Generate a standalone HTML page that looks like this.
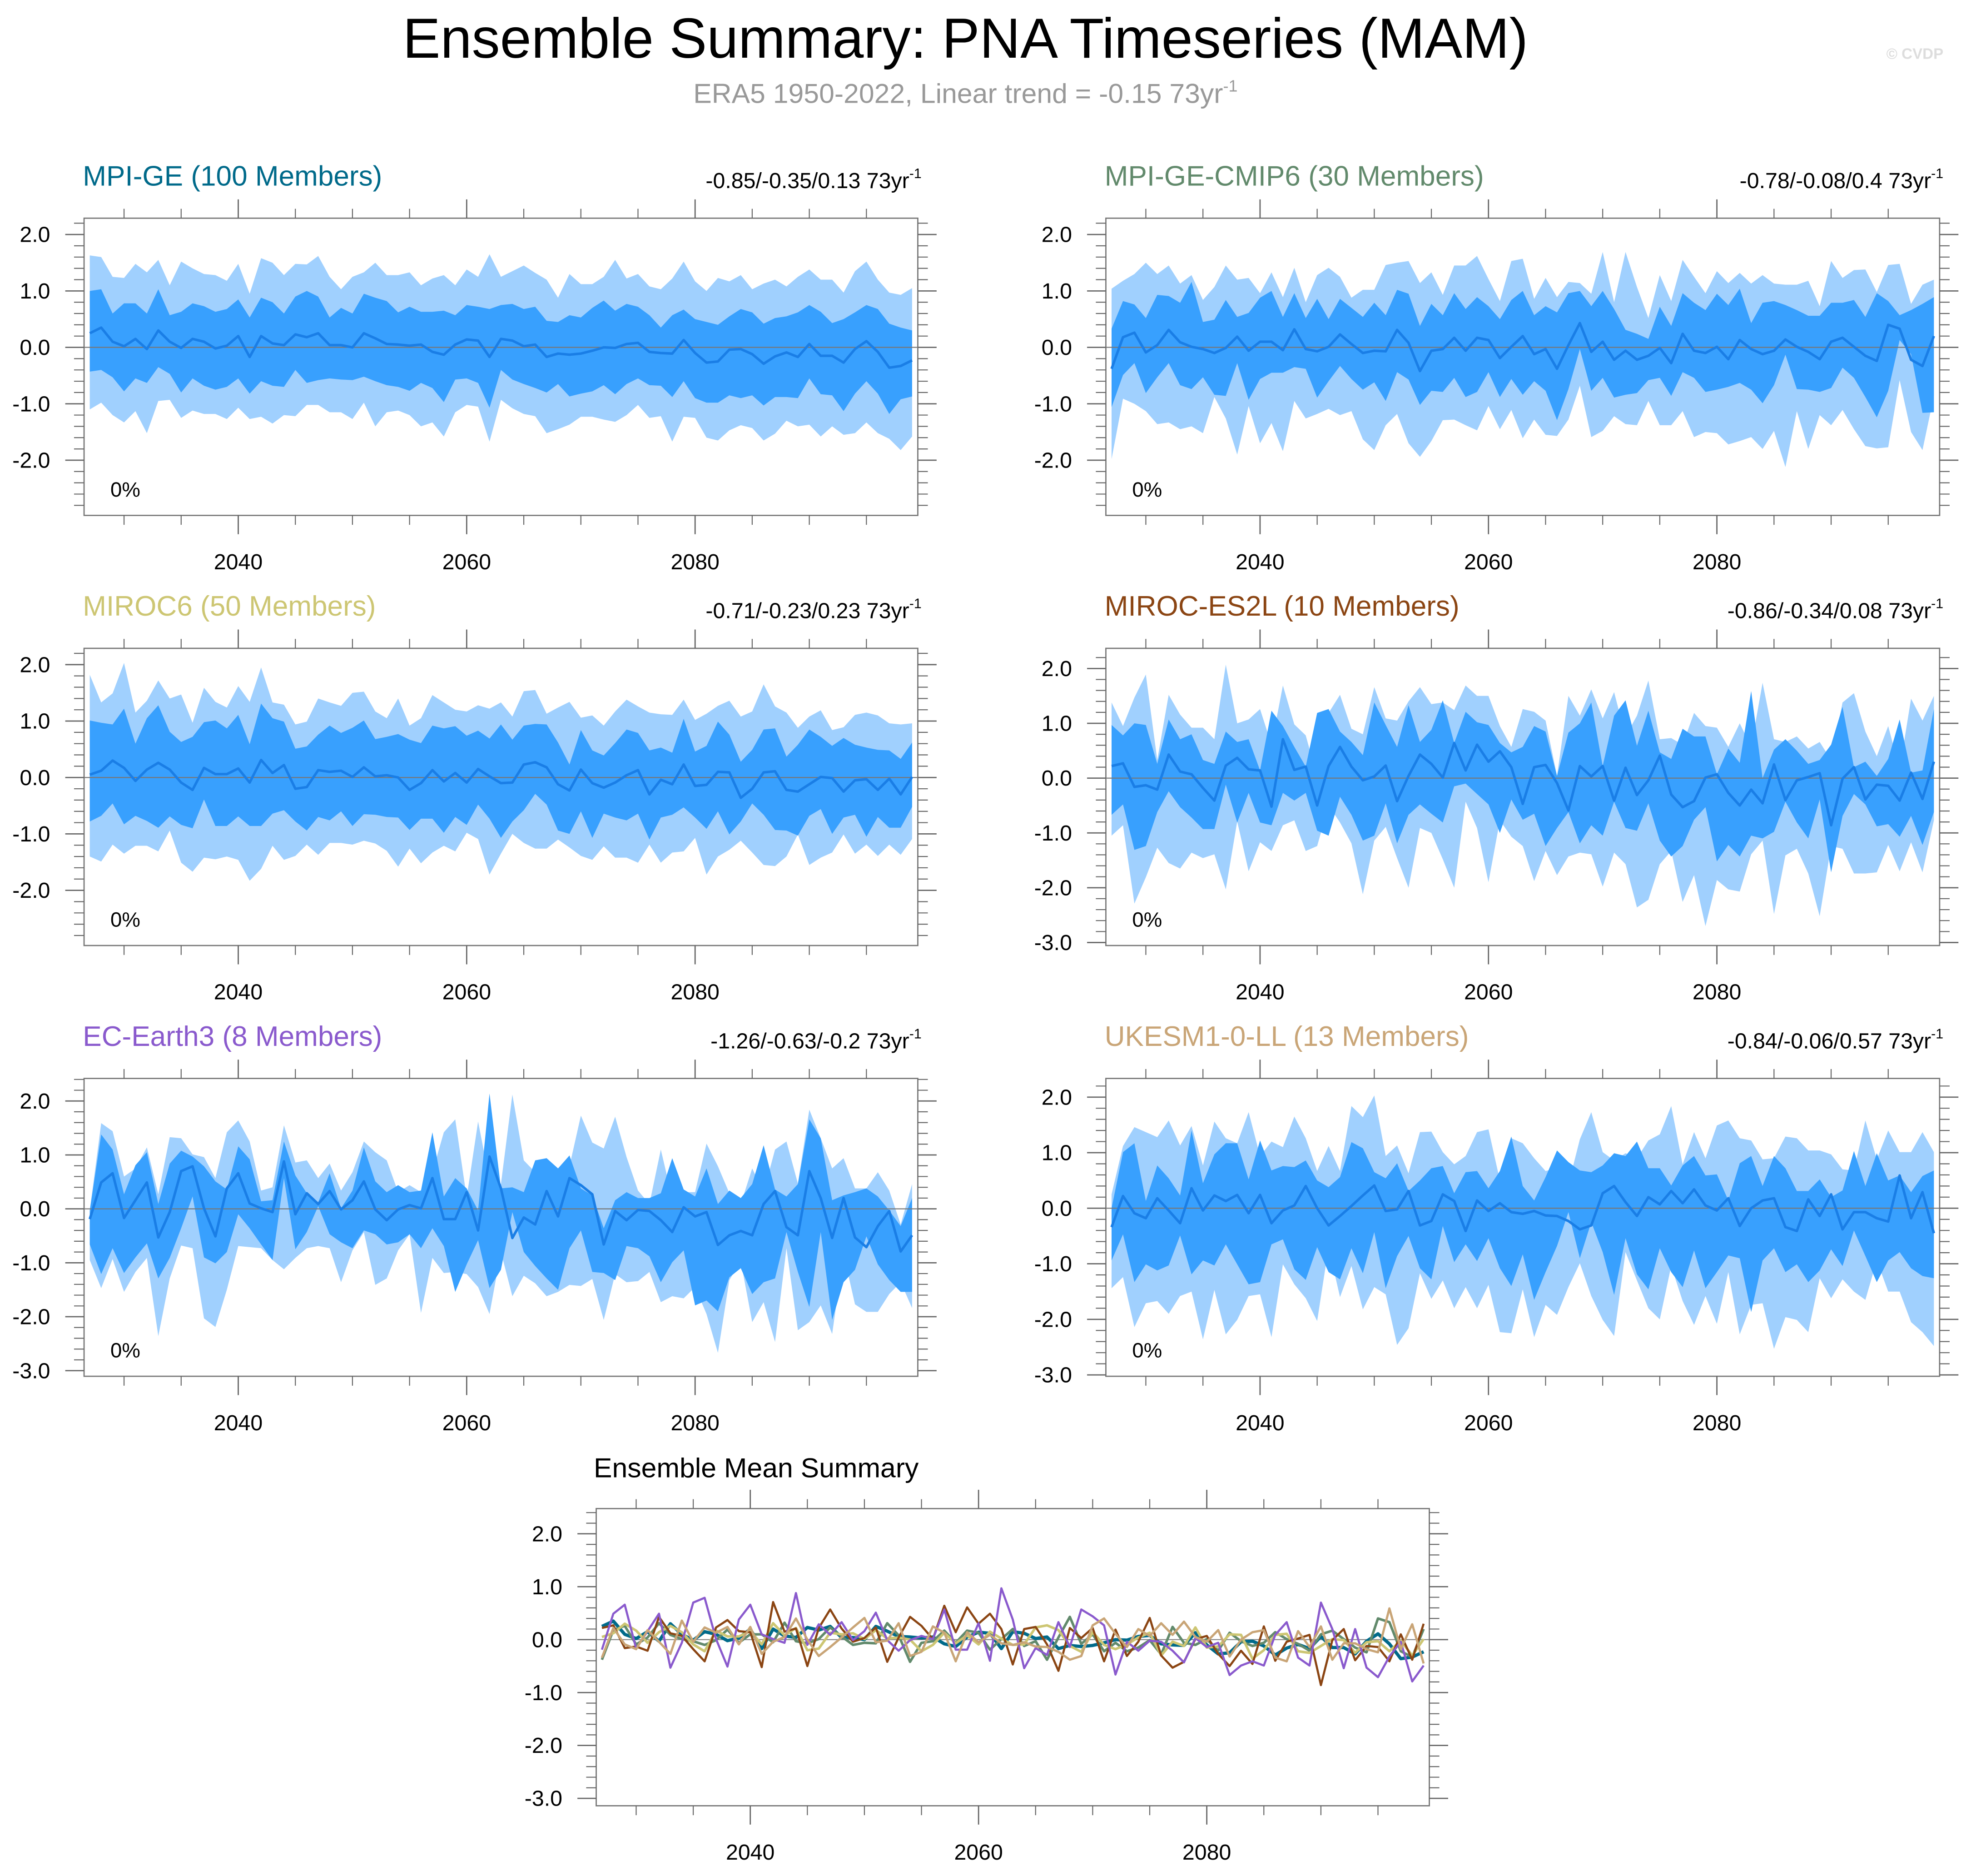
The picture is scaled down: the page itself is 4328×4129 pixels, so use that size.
<!DOCTYPE html>
<html><head><meta charset="utf-8"><title>Ensemble Summary: PNA Timeseries (MAM)</title>
<style>html,body{margin:0;padding:0;background:#fff}svg{display:block}text{font-family:"Liberation Sans",sans-serif}</style>
</head><body>
<svg id="chart" xmlns="http://www.w3.org/2000/svg" width="4328" height="4129" viewBox="0 0 1568 1496">
<rect width="1568" height="1496" fill="#fff"/>
<text x="770" y="46" font-size="45" text-anchor="middle" fill="#000">Ensemble Summary: PNA Timeseries (MAM)</text>
<text x="770" y="82" font-size="22" text-anchor="middle" fill="#999">ERA5 1950-2022, Linear trend = -0.15 73yr<tspan dy="-9" font-size="13">-1</tspan></text>
<text x="1550" y="47" font-size="12" font-weight="bold" text-anchor="end" fill="#ddd">© CVDP</text>
</svg>
<script>
const startYear = 2027;
const p1Mean=[0.25,0.35,0.1,0.02,0.15,-0.03,0.3,0.1,-0.01,0.15,0.1,-0.02,0.03,0.2,-0.17,0.2,0.07,0.04,0.23,0.18,0.25,0.04,0.04,0,0.25,0.16,0.06,0.05,0.03,0.05,-0.08,-0.13,0.05,0.14,0.12,-0.17,0.15,0.12,0.02,0.05,-0.17,-0.11,-0.13,-0.11,-0.06,0,-0.01,0.06,0.08,-0.08,-0.1,-0.11,0.13,-0.1,-0.27,-0.25,-0.04,-0.03,-0.12,-0.29,-0.16,-0.09,-0.17,0.06,-0.15,-0.15,-0.27,-0.03,0.11,-0.08,-0.36,-0.33,-0.23];
const p1Hi2=[1.63,1.6,1.25,1.23,1.48,1.33,1.55,1.1,1.52,1.4,1.3,1.28,1.18,1.48,0.95,1.58,1.5,1.28,1.48,1.47,1.62,1.25,1.03,1.25,1.33,1.5,1.28,1.28,1.33,1.1,1.22,1.28,1.1,1.38,1.25,1.65,1.25,1.35,1.45,1.32,1.2,0.88,1.3,1.12,1.12,1.25,1.55,1.22,1.3,1.08,1.03,1.22,1.52,1.17,1.0,1.23,1.17,1.28,1.03,1.13,1.2,1.08,1.25,1.38,1.2,1.2,0.97,1.35,1.52,1.2,0.97,0.93,1.05];
const p1Hi1=[1.0,1.03,0.6,0.78,0.78,0.6,1.03,0.57,0.63,0.78,0.73,0.63,0.68,0.85,0.53,0.88,0.8,0.6,0.9,1.0,0.9,0.53,0.7,0.6,0.95,0.88,0.82,0.62,0.72,0.63,0.63,0.65,0.57,0.75,0.72,0.68,0.75,0.77,0.68,0.72,0.47,0.45,0.57,0.53,0.7,0.83,0.65,0.77,0.72,0.57,0.35,0.57,0.67,0.5,0.45,0.4,0.55,0.68,0.62,0.42,0.52,0.55,0.62,0.75,0.63,0.43,0.5,0.62,0.75,0.68,0.42,0.35,0.3];
const p1Lo1=[-0.43,-0.4,-0.53,-0.78,-0.55,-0.63,-0.35,-0.47,-0.8,-0.55,-0.68,-0.75,-0.7,-0.55,-0.82,-0.6,-0.68,-0.7,-0.4,-0.63,-0.58,-0.55,-0.57,-0.58,-0.52,-0.6,-0.67,-0.7,-0.77,-0.63,-0.72,-0.97,-0.57,-0.55,-0.63,-1.07,-0.4,-0.57,-0.65,-0.72,-0.8,-0.65,-0.87,-0.82,-0.78,-0.67,-0.83,-0.65,-0.55,-0.67,-0.68,-0.88,-0.6,-0.9,-0.98,-0.98,-0.85,-0.9,-0.85,-1.03,-0.88,-0.88,-0.9,-0.55,-0.83,-0.85,-1.13,-0.82,-0.6,-0.82,-1.18,-0.92,-0.87];
const p1Lo2=[-1.1,-0.98,-1.2,-1.33,-1.13,-1.52,-0.95,-0.93,-1.25,-1.12,-1.18,-1.18,-1.27,-1.07,-1.27,-1.23,-1.35,-1.2,-1.22,-1.02,-1.02,-1.15,-1.15,-1.27,-0.98,-1.4,-1.15,-1.12,-1.2,-1.4,-1.33,-1.58,-1.15,-1.02,-1.05,-1.67,-0.93,-1.08,-1.18,-1.22,-1.52,-1.45,-1.37,-1.23,-1.23,-1.28,-1.32,-1.2,-1.02,-1.25,-1.22,-1.67,-1.23,-1.25,-1.6,-1.65,-1.47,-1.38,-1.43,-1.65,-1.53,-1.3,-1.4,-1.37,-1.58,-1.4,-1.55,-1.52,-1.33,-1.52,-1.62,-1.82,-1.58];

const p2Mean=[-0.38,0.18,0.26,-0.09,0.04,0.31,0.09,0.01,-0.03,-0.1,-0.01,0.19,-0.06,0.1,0.1,-0.05,0.32,-0.03,-0.07,0.01,0.23,0.06,-0.1,-0.06,-0.07,0.31,0.08,-0.42,-0.06,-0.03,0.17,-0.06,0.17,0.13,-0.19,0.01,0.2,-0.12,-0.03,-0.38,0.04,0.43,-0.08,0.1,-0.22,-0.06,-0.22,-0.15,-0.01,-0.28,0.24,-0.06,-0.1,0.01,-0.21,0.13,-0.03,-0.12,-0.06,0.14,0.01,-0.08,-0.21,0.1,0.17,0.01,-0.15,-0.24,0.4,0.33,-0.22,-0.33,0.2];
const p2Hi2=[1.04,1.18,1.3,1.5,1.3,1.45,1.13,1.28,0.84,1.07,1.45,1.2,1.23,0.96,1.33,0.89,1.41,0.8,1.28,1.41,1.25,0.88,1.02,1.02,1.46,1.5,1.53,1.14,1.33,0.93,1.45,1.45,1.62,1.21,0.82,1.53,1.57,0.86,1.23,0.89,1.16,1.14,0.95,1.69,0.8,1.69,1.07,0.52,1.28,0.82,1.55,1.25,0.96,1.35,1.14,1.32,1.13,1.28,1.13,1.11,1.11,1.18,0.73,1.53,1.23,1.37,1.38,0.98,1.46,1.48,0.77,1.11,1.2];
const p2Hi1=[0.33,0.82,0.76,0.52,0.93,0.91,0.79,1.16,0.45,0.49,0.84,0.54,0.61,0.88,1.0,0.54,0.96,0.52,0.86,0.5,0.86,0.7,0.54,0.79,0.57,1.02,0.95,0.38,0.77,0.57,0.96,0.68,0.89,0.73,0.5,0.84,1.0,0.57,0.73,0.62,0.96,1.0,0.73,1.0,0.68,0.31,0.24,0.15,0.72,0.38,0.96,0.79,0.66,0.95,0.75,1.04,0.43,0.79,0.82,0.75,0.66,0.56,0.56,0.79,0.79,0.84,0.54,0.96,0.82,0.57,0.66,0.77,0.89];
const p2Lo1=[-1.06,-0.49,-0.28,-0.81,-0.53,-0.28,-0.67,-0.74,-0.53,-0.84,-0.86,-0.28,-0.93,-0.56,-0.45,-0.45,-0.35,-0.38,-0.89,-0.6,-0.33,-0.56,-0.75,-0.62,-0.95,-0.44,-0.57,-1.02,-0.77,-0.79,-0.54,-0.88,-0.79,-0.44,-0.88,-0.56,-0.84,-0.6,-0.77,-1.29,-0.74,-0.03,-0.77,-0.54,-0.89,-0.84,-0.81,-0.58,-0.54,-0.86,-0.44,-0.54,-0.79,-0.75,-0.7,-0.63,-0.75,-0.99,-0.67,-0.13,-0.74,-0.75,-0.79,-0.72,-0.36,-0.54,-0.88,-1.24,-0.77,0.13,-0.12,-1.16,-1.15];
const p2Lo2=[-1.98,-0.91,-1.0,-1.13,-1.36,-1.33,-1.45,-1.4,-1.52,-0.88,-1.26,-1.9,-1.04,-1.7,-1.34,-1.84,-0.95,-1.26,-1.18,-1.09,-1.2,-1.13,-1.63,-1.82,-1.38,-1.18,-1.7,-1.94,-1.66,-1.29,-1.28,-1.38,-1.47,-1.04,-1.45,-1.11,-1.61,-1.28,-1.55,-1.57,-1.28,-0.68,-1.59,-1.48,-1.22,-1.36,-1.38,-0.95,-1.38,-1.38,-1.13,-1.59,-1.5,-1.52,-1.72,-1.66,-1.59,-1.8,-1.48,-2.12,-1.13,-1.8,-1.2,-1.38,-1.11,-1.45,-1.75,-1.79,-1.77,-0.58,-1.5,-1.82,-0.86];

const p3Mean=[0.05,0.12,0.3,0.17,-0.06,0.14,0.26,0.14,-0.09,-0.22,0.17,0.06,0.06,0.16,-0.09,0.31,0.08,0.22,-0.2,-0.17,0.13,0.1,0.12,0.01,0.18,0.02,0.04,0,-0.22,-0.1,0.13,-0.07,0.08,-0.09,0.15,0.02,-0.1,-0.09,0.23,0.27,0.18,-0.12,-0.23,0.14,-0.1,-0.18,-0.09,0.04,0.13,-0.3,-0.04,-0.12,0.23,-0.15,-0.13,0.1,0.09,-0.36,-0.2,0.09,0.11,-0.22,-0.25,-0.12,0.01,-0.01,-0.25,-0.05,-0.03,-0.22,-0.02,-0.3,0.01];
const p3Hi2=[1.82,1.33,1.49,2.03,1.15,1.36,1.72,1.4,1.47,0.97,1.59,1.34,1.24,1.62,1.34,1.95,1.33,1.29,0.94,0.99,1.4,1.33,1.27,1.5,1.52,1.17,1.05,1.4,0.92,1.05,1.46,1.33,1.2,1.17,1.28,1.22,1.33,1.08,1.53,1.55,1.13,1.24,1.34,1.06,1.1,0.92,1.17,1.38,1.26,1.15,1.12,1.11,1.38,1.02,1.13,1.27,1.36,1.08,1.17,1.65,1.26,1.15,0.88,1.08,1.19,0.84,0.89,1.11,1.15,1.1,0.96,0.94,0.96];
const p3Hi1=[1.01,0.97,0.94,1.22,0.6,1.05,1.28,0.81,0.63,0.72,0.98,1.01,0.87,1.11,0.59,1.31,1.05,0.99,0.51,0.55,0.76,0.92,0.79,0.88,1.01,0.68,0.72,0.77,0.67,0.61,0.92,0.87,0.91,0.74,0.83,0.69,0.94,0.67,0.92,0.95,0.94,0.62,0.23,0.84,0.48,0.39,0.61,0.85,0.79,0.48,0.53,0.44,1.04,0.46,0.56,0.99,0.76,0.28,0.49,0.85,0.87,0.37,0.58,0.85,0.72,0.56,0.7,0.58,0.53,0.49,0.48,0.33,0.62];
const p3Lo1=[-0.78,-0.68,-0.46,-0.83,-0.68,-0.77,-0.89,-0.69,-0.84,-0.9,-0.39,-0.86,-0.86,-0.69,-0.86,-0.86,-0.64,-0.58,-0.78,-0.94,-0.7,-0.76,-0.6,-0.86,-0.65,-0.66,-0.7,-0.71,-0.93,-0.73,-0.73,-0.98,-0.7,-0.84,-0.48,-0.73,-1.07,-0.78,-0.58,-0.29,-0.48,-0.94,-1.0,-0.6,-1.07,-0.64,-0.71,-0.76,-0.64,-1.1,-0.71,-0.66,-0.53,-0.71,-0.91,-0.6,-1.01,-0.78,-0.46,-0.66,-0.93,-0.94,-1.03,-0.68,-0.56,-1.0,-0.71,-0.66,-1.05,-0.7,-0.89,-0.89,-0.52];
const p3Lo2=[-1.4,-1.49,-1.19,-1.35,-1.21,-1.21,-1.31,-0.94,-1.51,-1.67,-1.42,-1.45,-1.4,-1.46,-1.83,-1.62,-1.21,-1.46,-1.39,-1.19,-1.37,-1.16,-1.16,-1.19,-1.12,-1.17,-1.3,-1.58,-1.26,-1.52,-1.33,-1.21,-1.31,-0.98,-1.09,-1.72,-1.35,-1.0,-1.16,-1.26,-1.26,-1.1,-1.24,-1.39,-1.46,-1.22,-1.42,-1.42,-1.51,-1.19,-1.51,-1.33,-1.31,-1.07,-1.72,-1.4,-1.28,-1.12,-1.33,-1.55,-1.57,-1.4,-1.01,-1.55,-1.42,-1.33,-1.01,-1.35,-1.19,-1.39,-1.19,-1.37,-1.09];

const p4Mean=[0.22,0.27,-0.16,-0.13,-0.21,0.43,0.12,0.07,-0.18,-0.41,0.23,0.37,0.16,0.14,-0.52,0.71,0.15,0.21,-0.5,0.22,0.57,0.21,-0.04,0.03,0.23,-0.42,0.04,0.43,0.26,0.01,0.64,0.14,0.61,0.3,0.49,0.2,-0.47,0.2,0.24,-0.09,-0.59,0.22,0.03,0.22,-0.41,0.19,-0.31,-0.04,0.41,-0.3,-0.53,-0.42,0.01,0.07,-0.27,-0.5,-0.21,-0.46,0.25,-0.4,-0.04,0.02,0.09,-0.86,-0.01,0.2,-0.39,-0.12,-0.14,-0.41,0.1,-0.38,0.3];
const p4Hi2=[1.38,0.95,1.47,1.89,0.33,1.52,1.16,0.92,0.92,0.71,2.07,1.0,1.07,1.26,0.61,1.69,0.98,0.78,0.02,1.19,1.52,0.9,0.8,1.66,1.09,1.05,1.4,1.66,1.35,1.38,1.24,1.69,1.5,1.5,0.95,0.57,1.26,1.21,1.05,0.04,1.5,1.14,1.62,1.09,1.57,0.76,1.14,1.78,0.71,0.73,0.61,1.19,0.95,0.92,0.57,1.0,0.57,1.74,0.71,0.66,0.76,0.54,0.66,0.33,1.38,1.55,0.85,0.4,0.95,0.16,1.45,1.05,1.5];
const p4Hi1=[0.97,0.78,1.0,0.97,0.26,1.07,0.71,0.8,0.33,0.26,0.85,0.66,0.71,0.14,1.23,0.95,0.57,0.21,1.19,1.26,0.85,0.66,0.42,1.38,0.97,0.57,1.33,0.66,0.88,1.42,0.64,1.21,1.02,0.97,0.64,0.47,0.57,0.95,0.85,0.04,0.83,1.0,1.38,0.22,1.14,1.42,0.59,1.23,0.47,0.35,0.9,0.76,0.76,0.07,0.54,0.28,1.59,0.0,0.52,0.71,0.5,0.26,0.33,0.61,1.3,0.2,0.3,0.04,0.35,1.07,0.1,0.14,1.26];
const p4Lo1=[-0.67,-0.48,-1.31,-1.24,-0.62,-0.24,-0.53,-0.72,-0.93,-0.93,-0.12,-0.81,-0.27,-0.81,-0.86,-0.27,-0.41,-0.27,-0.96,-1.05,-0.34,-0.67,-1.14,-1.05,-0.46,-1.19,-0.67,-0.48,-0.65,-0.81,-0.15,-0.1,-0.29,-0.48,-1.0,-0.39,-0.76,-0.65,-1.24,-0.91,-0.62,-1.19,-0.86,-1.05,-0.43,-0.91,-0.96,-0.46,-1.14,-1.43,-1.24,-0.76,-0.53,-1.52,-1.22,-1.43,-1.05,-1.1,-0.98,-0.43,-0.81,-1.1,-0.39,-1.72,-0.69,-0.29,-0.48,-0.88,-0.84,-1.07,-0.69,-1.22,-0.62];
const p4Lo2=[-1.05,-0.86,-2.29,-1.81,-1.27,-1.55,-1.65,-1.36,-1.46,-1.39,-2.03,-0.79,-1.7,-1.17,-1.33,-0.86,-0.77,-1.33,-1.24,-0.5,-0.81,-1.19,-2.12,-1.14,-0.89,-1.46,-2.0,-0.91,-1.0,-1.48,-2.0,-0.43,-0.91,-1.9,-0.77,-1.07,-1.24,-1.88,-1.33,-1.77,-1.43,-1.36,-1.39,-1.98,-1.36,-1.57,-2.36,-2.22,-1.57,-1.33,-2.26,-1.77,-2.7,-1.86,-2.03,-2.07,-1.39,-1.14,-2.48,-1.41,-1.29,-1.74,-2.52,-1.24,-1.29,-1.74,-1.74,-1.72,-1.22,-1.7,-1.17,-1.72,-0.77];

const p5Mean=[-0.19,0.49,0.66,-0.17,0.16,0.49,-0.53,-0.06,0.7,0.79,0.01,-0.51,0.38,0.66,0.1,0.01,-0.06,0.88,-0.1,0.29,0.09,0.33,-0.01,0.16,0.51,-0.01,-0.21,-0.01,0.07,0.01,0.57,-0.19,-0.19,0.31,-0.4,0.97,0.38,-0.54,-0.16,-0.29,0.33,-0.14,0.57,0.44,0.27,-0.66,-0.04,-0.21,-0.02,-0.04,-0.21,-0.43,0.03,-0.14,-0.06,-0.67,-0.49,-0.41,-0.49,0.09,0.33,-0.34,-0.49,0.7,0.2,-0.54,0.2,-0.53,-0.71,-0.32,-0.04,-0.79,-0.49];
const p5Hi2=[-0.03,1.59,1.44,0.6,0.75,1.14,0.27,1.33,1.31,1.01,0.96,0.57,1.42,1.64,1.25,0.34,0.4,1.55,0.86,0.9,0.57,0.84,0.34,0.68,1.25,1.05,0.9,0.31,0.44,0.31,0.68,1.42,1.66,0.21,1.62,0.53,0.46,2.12,0.9,0.68,0.4,0.34,0.79,1.73,1.23,1.12,1.71,0.96,0.34,0.09,1.1,0.2,0.31,0.31,1.21,0.79,0.29,0.09,0.75,0.31,1.1,1.25,0.47,1.84,1.31,0.75,0.94,0.38,0.38,0.68,0.34,-0.29,0.46];
const p5Hi1=[-0.03,1.38,1.1,0.27,0.81,1.05,0.09,0.84,1.08,0.97,0.79,0.51,0.36,1.16,0.92,0.14,0.16,1.25,0.62,0.29,0.12,0.66,0.01,0.34,1.14,0.51,0.31,0.44,0.31,0.34,1.42,0.23,0.57,0.38,-0.03,2.14,0.38,0.4,0.31,0.9,0.94,0.75,0.99,0.38,0.25,-0.36,0.16,0.31,0.2,0.2,0.29,0.94,0.36,0.23,0.75,0.09,0.34,0.2,0.46,1.18,0.36,0.23,0.46,1.66,1.31,0.16,0.25,0.31,0.38,0.23,-0.03,-0.32,0.2];
const p5Lo1=[-0.66,-1.21,-0.73,-1.19,-0.9,-0.64,-1.29,-0.91,-0.36,0.23,-0.9,-1.01,-0.8,-0.1,-0.36,-0.66,-0.95,0.57,-0.75,-0.43,0.05,-0.47,-0.62,-0.73,-0.4,-0.47,-0.66,-0.62,-0.47,-0.73,-0.36,-0.69,-1.54,-1.03,-0.58,-1.47,-1.13,-0.06,-0.8,-1.06,-1.29,-1.5,-0.73,-0.4,-1.17,-1.19,-1.32,-0.69,-0.73,-0.88,-1.36,-0.99,-0.77,-1.79,-1.7,-1.9,-1.27,-1.1,-1.58,-1.36,-1.29,-0.43,-1.17,-1.82,-0.43,-2.06,-1.36,-1.13,-0.51,-1.03,-1.32,-1.54,-1.54];
const p5Lo2=[-0.95,-1.47,-0.93,-1.54,-1.17,-0.91,-2.36,-1.29,-0.68,-0.73,-2.03,-2.19,-1.5,-0.69,-0.71,-0.73,-0.95,-1.12,-0.91,-0.73,-0.69,-0.73,-1.36,-0.77,-0.43,-1.41,-1.29,-0.77,-0.47,-1.93,-0.91,-1.19,-1.17,-1.21,-1.45,-1.95,-0.8,-1.62,-1.24,-1.38,-1.62,-1.54,-1.41,-1.43,-1.3,-2.06,-1.21,-1.36,-1.34,-1.17,-1.73,-1.62,-1.66,-1.45,-1.95,-2.67,-1.32,-0.97,-2.1,-1.73,-2.47,-0.73,-2.25,-2.1,-1.79,-2.32,-0.84,-1.77,-1.91,-1.91,-1.58,-1.36,-1.84];

const p6Mean=[-0.34,0.22,-0.09,-0.18,0.18,-0.04,-0.27,0.36,-0.04,0.23,0.13,0.24,-0.09,0.24,-0.27,-0.04,0.05,0.4,0,-0.31,-0.14,0.04,0.23,0.41,-0.05,-0.02,0.31,-0.31,-0.23,0.25,0.13,-0.41,0.14,-0.05,0.09,-0.07,-0.1,-0.05,-0.13,-0.14,-0.23,-0.38,-0.31,0.27,0.4,0.11,-0.14,0.2,0.07,0.31,0.09,0.34,0.05,-0.04,0.18,-0.32,0,0.14,0.18,-0.34,-0.41,0.16,-0.14,0.25,-0.38,-0.07,-0.07,-0.18,-0.24,0.59,-0.18,0.29,-0.45];
const p6Hi2=[0.25,1.12,1.46,1.37,1.28,1.58,1.13,1.48,0.77,1.56,1.26,1.17,1.73,0.94,1.2,1.1,1.65,1.26,0.67,1.12,0.67,1.84,1.64,2.03,0.94,1.13,0.63,1.37,1.38,1.01,0.79,0.94,1.37,1.42,0.5,1.26,1.17,0.9,0.67,0.72,0.43,1.24,1.73,1.01,0.86,0.99,0.9,1.22,1.33,1.84,0.79,1.37,0.9,1.49,1.58,1.26,1.22,0.88,0.9,1.29,1.26,1.04,1.04,0.97,0.7,0.68,1.58,0.88,1.4,1.01,1.01,1.37,1.01];
const p6Hi1=[0,1.01,1.17,0.13,0.77,0.54,0.23,1.4,0.45,0.97,1.17,1.17,0.52,1.22,0.68,0.76,0.74,0.86,0.5,0.38,0.56,1.19,1.08,0.65,0.54,0.81,0.31,0.5,0.72,0.76,0.27,0.65,0.67,0.36,0.67,1.29,0.4,0.14,0.56,1.04,0.83,0.68,0.65,0.77,0.99,0.94,1.2,0.72,0.72,0.41,0.77,0.94,0.59,0.61,0.14,0.81,0.94,0.4,0.94,0.72,0.31,0.31,0.52,0.2,0.32,1.03,0.4,0.99,0.5,0.59,0.29,0.58,0.68];
const p6Lo1=[-0.94,-0.47,-1.33,-1.01,-1.12,-1.03,-0.49,-1.19,-0.94,-1.03,-0.65,-1.01,-1.37,-1.33,-0.65,-0.56,-1.1,-1.29,-0.7,-1.15,-1.28,-0.72,-1.17,-0.43,-1.44,-0.86,-0.5,-1.08,-1.28,-0.32,-0.97,-0.65,-0.95,-0.54,-1.08,-1.4,-0.83,-1.65,-1.15,-0.68,-0.07,-0.9,-0.25,-0.79,-1.56,-0.54,-1.19,-1.46,-0.72,-1.15,-1.42,-0.76,-1.44,-1.15,-0.85,-0.9,-1.87,-0.94,-0.72,-1.15,-1.01,-1.33,-1.12,-0.74,-1.04,-0.4,-0.86,-1.33,-0.94,-0.79,-1.08,-1.22,-1.26];
const p6Lo2=[-1.44,-1.24,-2.14,-1.71,-1.67,-1.9,-1.58,-1.5,-2.36,-1.47,-2.27,-2.01,-1.58,-1.55,-2.32,-1.01,-1.37,-1.62,-2.03,-0.7,-1.6,-1.04,-1.82,-1.42,-1.55,-2.46,-2.16,-1.17,-1.63,-1.3,-1.8,-1.42,-1.8,-1.38,-2.23,-2.25,-1.46,-2.32,-1.74,-1.92,-1.42,-0.99,-1.58,-2.01,-2.3,-0.79,-1.3,-1.8,-2.0,-1.04,-1.67,-2.1,-1.58,-2.08,-1.15,-2.27,-1.74,-1.71,-2.53,-1.96,-2.01,-2.23,-1.26,-1.62,-1.28,-1.5,-1.65,-0.94,-1.5,-1.5,-2.05,-2.23,-2.48];

const modelNames=["MPI-GE (100 Members)","MPI-GE-CMIP6 (30 Members)","MIROC6 (50 Members)","MIROC-ES2L (10 Members)","EC-Earth3 (8 Members)","UKESM1-0-LL (13 Members)"];
const modelColors=["#006a8a","#628a6c","#cdc673","#8b4513","#8a5acd","#c9a577"];
const trendLabels=["-0.85/-0.35/0.13","-0.78/-0.08/0.4","-0.71/-0.23/0.23","-0.86/-0.34/0.08","-1.26/-0.63/-0.2","-0.84/-0.06/0.57"];
const xTickYears=[2040,2060,2080];
const seriesSets=[[p1Mean,p1Hi2,p1Hi1,p1Lo1,p1Lo2],[p2Mean,p2Hi2,p2Hi1,p2Lo1,p2Lo2],[p3Mean,p3Hi2,p3Hi1,p3Lo1,p3Lo2],[p4Mean,p4Hi2,p4Hi1,p4Lo1,p4Lo2],[p5Mean,p5Hi2,p5Hi1,p5Lo1,p5Lo2],[p6Mean,p6Hi2,p6Hi1,p6Lo1,p6Lo2]];

const panels=[
 {L:67,R:732,T:174,B:411,y0:277,u:45},
 {L:882,R:1547,T:174,B:411,y0:277,u:45},
 {L:67,R:732,T:517,B:754,y0:620,u:45},
 {L:882,R:1547,T:517,B:754,y0:620.5,u:43.7},
 {L:67,R:732,T:860,B:1097.5,y0:964,u:43},
 {L:882,R:1547,T:860,B:1097.5,y0:963.5,u:44.3}
];
const summary={L:475.5,R:1140,T:1203,B:1440,y0:1307.5,u:42.2};

const NS="http://www.w3.org/2000/svg";
const svg=document.getElementById('chart');
function mk(tag,attrs,parent){const e=document.createElementNS(NS,tag);for(const k in attrs)e.setAttribute(k,attrs[k]);(parent||svg).appendChild(e);return e;}
const YR0=2026.5, YR1=2099.5;
function xs(p,yr){return p.L+(yr-YR0)/(YR1-YR0)*(p.R-p.L);}
function ys(p,v){return p.y0-v*p.u;}
function pts(p,arr){return arr.map((v,i)=>xs(p,startYear+i).toFixed(2)+','+ys(p,v).toFixed(2));}

function axes(p,g){
  const tc="#666";
  const vTop=(p.y0-p.T)/p.u, vBot=(p.y0-p.B)/p.u;
  for(let k=Math.ceil(vBot*5-1e-6);k<=Math.floor(vTop*5+1e-6);k++){
    const v=k/5, y=ys(p,v), major=(k%5===0);
    const len=major?15:8;
    const t1=mk('line',{x1:p.L-len,x2:p.L,y1:y,y2:y,stroke:tc,'stroke-width':major?1:0.8},g);
    
    
    const t2=mk('line',{x1:p.R,x2:p.R+len,y1:y,y2:y,stroke:tc,'stroke-width':major?1:0.8},g);
    
    
    if(major){
      const lb=mk('text',{x:p.L-27,y:y+6,'font-size':17.5,'text-anchor':'end',fill:'#000'},g);
      lb.textContent=v.toFixed(1);
      
      
    }
  }
  for(let yr=2030;yr<=2095;yr+=5){
    const x=xs(p,yr), major=(yr%20===0);
    const len=major?15:7.5;
    const a=mk('line',{x1:x,x2:x,y1:p.T-len,y2:p.T,stroke:tc,'stroke-width':major?1:0.8},g);
    
    
    const b=mk('line',{x1:x,x2:x,y1:p.B,y2:p.B+len,stroke:tc,'stroke-width':major?1:0.8},g);
    
    
  }
  xTickYears.forEach(yr=>{
    const lb=mk('text',{x:xs(p,yr),y:p.B+43,'font-size':17.5,'text-anchor':'middle',fill:'#000'},g);
    lb.textContent=String(yr);
    
    
  });
}

panels.forEach((p,idx)=>{
  const g=mk('g',{});
  
  
  const [mean,hi2,hi1,lo1,lo2]=seriesSets[idx];
  const outer=mk('polygon',{points:pts(p,hi2).concat(pts(p,lo2).reverse()).join(' '),fill:'#a0d0fe'},g);
  
  
  const inner=mk('polygon',{points:pts(p,hi1).concat(pts(p,lo1).reverse()).join(' '),fill:'#38a0fe'},g);
  
  
  const z=mk('line',{x1:p.L,x2:p.R,y1:ys(p,0),y2:ys(p,0),stroke:'#777','stroke-width':0.8},g);
  
  
  const ml=mk('polyline',{points:pts(p,mean).join(' '),fill:'none',stroke:'#1a7ee6','stroke-width':2,'stroke-linejoin':'round'},g);
  
  
  const box=mk('rect',{x:p.L,y:p.T,width:p.R-p.L,height:p.B-p.T,fill:'none',stroke:'#777','stroke-width':1},g);
  
  
  axes(p,g);
  const tt=mk('text',{x:p.L-1,y:p.T-26,'font-size':22.5,fill:modelColors[idx]},g);
  tt.textContent=modelNames[idx];
  
  
  const tr=mk('text',{x:p.R+3,y:p.T-24,'font-size':17.5,'text-anchor':'end',fill:'#000'},g);
  
  
  const s1=mk('tspan',{},tr); s1.textContent=trendLabels[idx]+' 73yr';
  const s2=mk('tspan',{dy:-8,'font-size':11},tr); s2.textContent='-1';
  const pc=mk('text',{x:p.L+21,y:p.B-15,'font-size':16.5,fill:'#000'},g);
  pc.textContent='0%';
  
  
});

(function(){
  const p=summary;
  const g=mk('g',{});
  
  
  const z=mk('line',{x1:p.L,x2:p.R,y1:ys(p,0),y2:ys(p,0),stroke:'#888','stroke-width':0.8},g);
  
  
  const widths=[2.6,2,2,1.7,1.7,1.8];
  seriesSets.forEach((s,idx)=>{
    const l=mk('polyline',{points:pts(p,s[0]).join(' '),fill:'none',stroke:modelColors[idx],'stroke-width':widths[idx],'stroke-linejoin':'round'},g);
    
    
  });
  const box=mk('rect',{x:p.L,y:p.T,width:p.R-p.L,height:p.B-p.T,fill:'none',stroke:'#777','stroke-width':1},g);
  
  
  axes(p,g);
  const tt=mk('text',{x:p.L-2,y:p.T-25,'font-size':22,fill:'#000'},g);
  tt.textContent='Ensemble Mean Summary';
  
  
})();
</script>
</body></html>
